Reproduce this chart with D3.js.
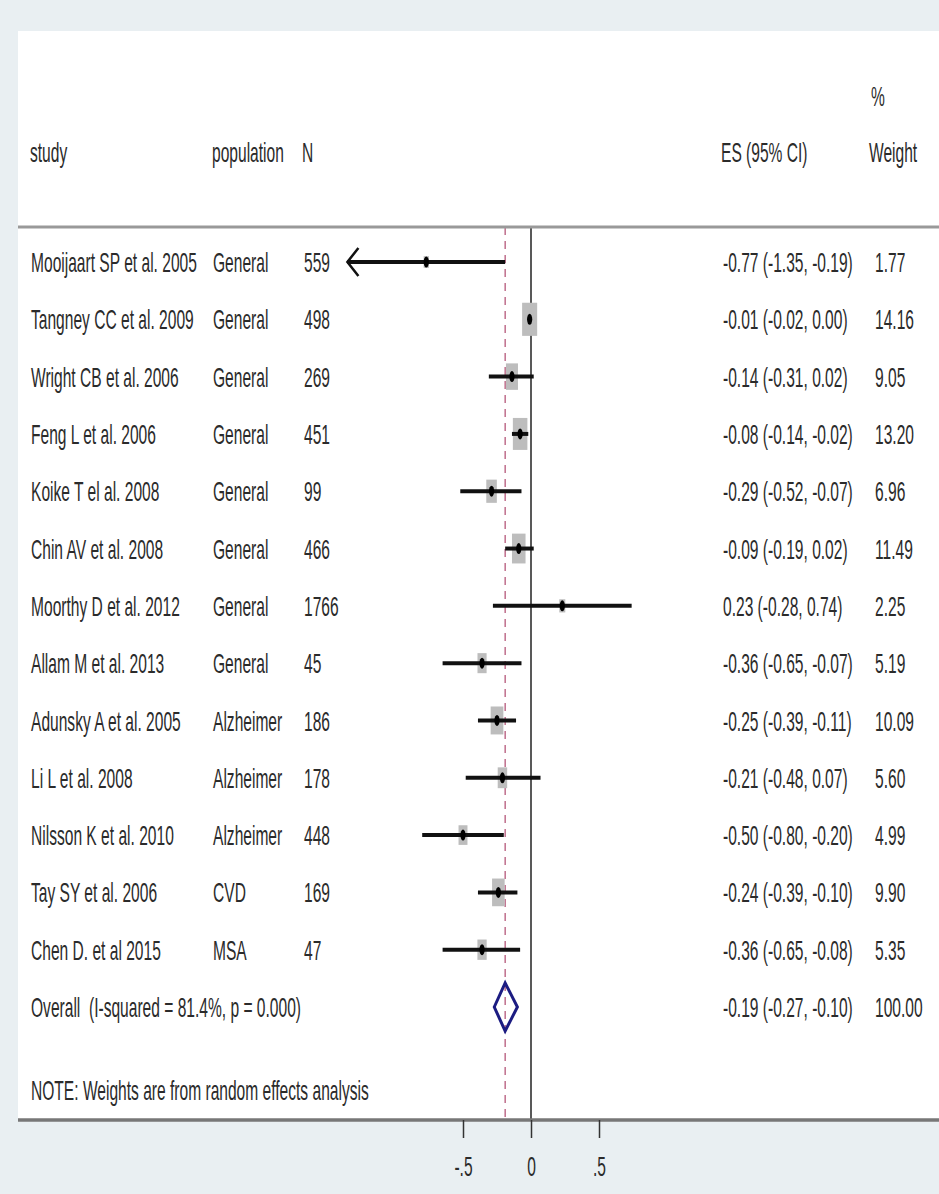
<!DOCTYPE html>
<html>
<head>
<meta charset="utf-8">
<script src="https://d3js.org/d3.v7.min.js"></script>
<style>
  body { margin: 0; background: #e9eff2; }
  text { font-family: "Liberation Sans", Arial, sans-serif; fill: #2b2b2b; white-space: pre; }
</style>
</head>
<body>
<div id="chart"></div>
<script>
// data
var studies = ["Mooijaart SP et al. 2005", "Tangney CC et al. 2009", "Wright CB et al. 2006",
  "Feng L et al. 2006", "Koike T el al. 2008", "Chin AV et al. 2008", "Moorthy D et al. 2012",
  "Allam M et al. 2013", "Adunsky A et al. 2005", "Li L et al. 2008", "Nilsson K et al. 2010",
  "Tay SY et al. 2006", "Chen D. et al 2015"];
var populations = ["General", "General", "General", "General", "General", "General", "General",
  "General", "Alzheimer", "Alzheimer", "Alzheimer", "CVD", "MSA"];
var ns = ["559", "498", "269", "451", "99", "466", "1766", "45", "186", "178", "448", "169", "47"];
var es = [-0.77, -0.01, -0.14, -0.08, -0.29, -0.09, 0.23, -0.36, -0.25, -0.21, -0.50, -0.24, -0.36];
var lo = [-1.35, -0.02, -0.31, -0.14, -0.52, -0.19, -0.28, -0.65, -0.39, -0.48, -0.80, -0.39, -0.65];
var hi = [-0.19, 0.00, 0.02, -0.02, -0.07, 0.02, 0.74, -0.07, -0.11, 0.07, -0.20, -0.10, -0.08];
var weights = [1.77, 14.16, 9.05, 13.20, 6.96, 11.49, 2.25, 5.19, 10.09, 5.60, 4.99, 9.90, 5.35];
var esLabels = ["-0.77 (-1.35, -0.19)", "-0.01 (-0.02, 0.00)", "-0.14 (-0.31, 0.02)",
  "-0.08 (-0.14, -0.02)", "-0.29 (-0.52, -0.07)", "-0.09 (-0.19, 0.02)", "0.23 (-0.28, 0.74)",
  "-0.36 (-0.65, -0.07)", "-0.25 (-0.39, -0.11)", "-0.21 (-0.48, 0.07)", "-0.50 (-0.80, -0.20)",
  "-0.24 (-0.39, -0.10)", "-0.36 (-0.65, -0.08)"];
var weightLabels = ["1.77", "14.16", "9.05", "13.20", "6.96", "11.49", "2.25", "5.19", "10.09",
  "5.60", "4.99", "9.90", "5.35"];
var overall = { label: "Overall  (I-squared = 81.4%, p = 0.000)", es: -0.19, lo: -0.27, hi: -0.10,
  esLabel: "-0.19 (-0.27, -0.10)", weight: "100.00" };
var tickValues = [-0.5, 0, 0.5];
var tickLabels = ["-.5", "0", ".5"];
var xMin = -1.35;

var W = 939, H = 1194;
var fs = 28;

var svg = d3.select("#chart").append("svg").attr("width", W).attr("height", H);
svg.append("rect").attr("width", W).attr("height", H).attr("fill", "#e9eff2");
svg.append("rect").attr("x", 18).attr("y", 31).attr("width", W - 18).attr("height", 1089).attr("fill", "#fff");

var x = d3.scaleLinear().domain([-0.5, 0.5]).range([463, 599]);
var rows = d3.range(studies.length + 1);
var y = d3.scalePoint().domain(rows).range([262, 1007]);
var yTop = 227, yAxis = 1120;

// condensed look: squeeze text horizontally
var probe = svg.append("text").attr("font-size", fs).text(studies[0]);
var sx = 166 / probe.node().getComputedTextLength();
probe.remove();

function label(x0, y0, s) {
  svg.append("text")
    .attr("transform", "translate(" + x0 + "," + y0 + ") scale(" + sx + ",1)")
    .attr("font-size", fs)
    .attr("dy", "0.36em")
    .text(s);
}

// header
label(30, 152, "study");
label(212, 152, "population");
label(302, 152, "N");
label(721, 152, "ES (95% CI)");
label(869, 152, "Weight");
label(871, 96, "%");

// reference lines
svg.append("line").attr("x1", x(0)).attr("x2", x(0)).attr("y1", yTop).attr("y2", yAxis)
  .attr("stroke", "#222").attr("stroke-width", 1.5);
svg.append("line").attr("x1", x(overall.es)).attr("x2", x(overall.es)).attr("y1", yTop).attr("y2", yAxis)
  .attr("stroke", "#b5587a").attr("stroke-width", 1.3).attr("stroke-dasharray", "8,6");

// header rule and axis rule
svg.append("line").attr("x1", 18).attr("x2", W).attr("y1", yTop).attr("y2", yTop)
  .attr("stroke", "#999").attr("stroke-width", 3);
svg.append("line").attr("x1", 18).attr("x2", W).attr("y1", yAxis).attr("y2", yAxis)
  .attr("stroke", "#777").attr("stroke-width", 3.5);

// rows of text
studies.forEach(function(s, i) {
  label(31, y(i), s);
  label(213, y(i), populations[i]);
  label(304, y(i), ns[i]);
  label(723, y(i), esLabels[i]);
  label(875, y(i), weightLabels[i]);
});
label(31, y(13), overall.label);
label(723, y(13), overall.esLabel);
label(875, y(13), overall.weight);
label(31, 1090, "NOTE: Weights are from random effects analysis");

// weight boxes
var g = svg.append("g");
g.selectAll("rect.box").data(rows.slice(0, studies.length)).enter().append("rect")
  .attr("class", "box")
  .attr("x", function(i) { return x(es[i]) - 2 * Math.sqrt(weights[i]); })
  .attr("y", function(i) { return y(i) - 4.4 * Math.sqrt(weights[i]); })
  .attr("width", function(i) { return 4 * Math.sqrt(weights[i]); })
  .attr("height", function(i) { return 8.8 * Math.sqrt(weights[i]); })
  .attr("fill", "#bdbdbd");

// confidence intervals
g.selectAll("line.ci").data(rows.slice(0, studies.length)).enter().append("line")
  .attr("class", "ci")
  .attr("x1", function(i) { return x(Math.max(lo[i], xMin)); })
  .attr("x2", function(i) { return x(hi[i]); })
  .attr("y1", function(i) { return y(i); })
  .attr("y2", function(i) { return y(i); })
  .attr("stroke", "#111").attr("stroke-width", 4);

// arrow for truncated interval
rows.slice(0, studies.length).filter(function(i) { return lo[i] <= xMin; }).forEach(function(i) {
  var ax = x(xMin), ay = y(i);
  g.append("path")
    .attr("d", "M" + (ax + 11) + "," + (ay - 14) + "L" + ax + "," + ay + "L" + (ax + 11) + "," + (ay + 14))
    .attr("fill", "none").attr("stroke", "#111").attr("stroke-width", 2.5);
});

// point estimates
g.selectAll("ellipse.pt").data(rows.slice(0, studies.length)).enter().append("ellipse")
  .attr("class", "pt")
  .attr("cx", function(i) { return x(es[i]); })
  .attr("cy", function(i) { return y(i); })
  .attr("rx", 2.6).attr("ry", 5.5)
  .attr("fill", "#000");

// overall diamond
var yo = y(13);
g.append("path")
  .attr("d", "M" + x(overall.lo) + "," + yo + "L" + x(overall.es) + "," + (yo - 24) +
    "L" + x(overall.hi) + "," + yo + "L" + x(overall.es) + "," + (yo + 24) + "Z")
  .attr("fill", "none").attr("stroke", "#1c1c82").attr("stroke-width", 3);

// x axis
var axis = d3.axisBottom(x).tickValues(tickValues).tickSize(18)
  .tickFormat(function(d, i) { return tickLabels[i]; });
var ax = svg.append("g").attr("transform", "translate(0," + yAxis + ")").call(axis);
ax.select(".domain").remove();
ax.selectAll(".tick line").attr("stroke", "#333").attr("stroke-width", 1.5);
ax.selectAll(".tick text")
  .attr("font-size", fs).attr("fill", "#2b2b2b")
  .attr("font-family", "Liberation Sans, Arial, sans-serif")
  .attr("y", 0).attr("dy", 0)
  .attr("transform", "translate(0,56) scale(" + sx + ",1)");
</script>
</body>
</html>
